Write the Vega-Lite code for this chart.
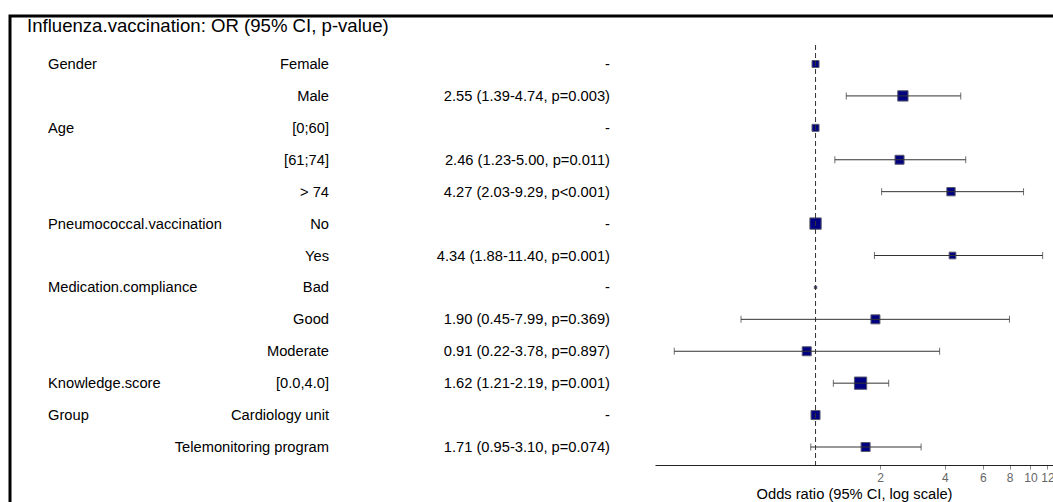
{
  "$schema": "https://vega.github.io/schema/vega-lite/v6.json",
  "width": 1050,
  "height": 500,
  "autosize": {"type": "none"},
  "padding": {"left": 10, "top": 16, "right": -7, "bottom": -14},
  "background": "white",
  "config": {
    "view": {"stroke": "black", "strokeWidth": 3},
    "font": "Liberation Sans",
    "text": {"font": "Liberation Sans", "fontSize": 14.7, "color": "black"}
  },
  "title": {
    "text": "Influenza.vaccination: OR (95% CI, p-value)",
    "anchor": "start",
    "frame": "group",
    "offset": 0,
    "dx": 17,
    "dy": 35,
    "baseline": "alphabetic",
    "font": "Liberation Sans",
    "fontSize": 18.6,
    "fontWeight": "normal",
    "color": "black"
  },
  "data": {
    "values": [
      {"row": 1, "variable": "Gender", "level": "Female", "or_text": "-", "or": 1, "lo": null, "hi": null, "n": 49},
      {"row": 2, "variable": "", "level": "Male", "or_text": "2.55 (1.39-4.74, p=0.003)", "or": 2.55, "lo": 1.39, "hi": 4.74, "n": 106},
      {"row": 3, "variable": "Age", "level": "[0;60]", "or_text": "-", "or": 1, "lo": null, "hi": null, "n": 49},
      {"row": 4, "variable": "", "level": "[61;74]", "or_text": "2.46 (1.23-5.00, p=0.011)", "or": 2.46, "lo": 1.23, "hi": 5.0, "n": 81},
      {"row": 5, "variable": "", "level": "> 74", "or_text": "4.27 (2.03-9.29, p<0.001)", "or": 4.27, "lo": 2.03, "hi": 9.29, "n": 69},
      {"row": 6, "variable": "Pneumococcal.vaccination", "level": "No", "or_text": "-", "or": 1, "lo": null, "hi": null, "n": 128},
      {"row": 7, "variable": "", "level": "Yes", "or_text": "4.34 (1.88-11.40, p=0.001)", "or": 4.34, "lo": 1.88, "hi": 11.4, "n": 45},
      {"row": 8, "variable": "Medication.compliance", "level": "Bad", "or_text": "-", "or": 1, "lo": null, "hi": null, "n": 6},
      {"row": 9, "variable": "", "level": "Good", "or_text": "1.90 (0.45-7.99, p=0.369)", "or": 1.9, "lo": 0.45, "hi": 7.99, "n": 81},
      {"row": 10, "variable": "", "level": "Moderate", "or_text": "0.91 (0.22-3.78, p=0.897)", "or": 0.91, "lo": 0.22, "hi": 3.78, "n": 81},
      {"row": 11, "variable": "Knowledge.score", "level": "[0.0,4.0]", "or_text": "1.62 (1.21-2.19, p=0.001)", "or": 1.62, "lo": 1.21, "hi": 2.19, "n": 151},
      {"row": 12, "variable": "Group", "level": "Cardiology unit", "or_text": "-", "or": 1, "lo": null, "hi": null, "n": 81},
      {"row": 13, "variable": "", "level": "Telemonitoring program", "or_text": "1.71 (0.95-3.10, p=0.074)", "or": 1.71, "lo": 0.95, "hi": 3.1, "n": 81}
    ]
  },
  "layer": [
    {
      "layer": [
        {
          "layer": [
            {
              "mark": {"type": "text", "align": "left", "baseline": "middle", "dy": 1},
              "encoding": {
                "x": {"datum": 0, "type": "quantitative"},
                "text": {"field": "variable"}
              }
            },
            {
              "mark": {"type": "text", "align": "right", "baseline": "middle", "dy": 1},
              "encoding": {
                "x": {"datum": 1, "type": "quantitative"},
                "text": {"field": "level"}
              }
            },
            {
              "mark": {"type": "text", "align": "right", "baseline": "middle", "dy": 1},
              "encoding": {
                "x": {"datum": 2, "type": "quantitative"},
                "text": {"field": "or_text"}
              }
            }
          ],
          "encoding": {
            "x": {"scale": {"domain": [0, 2], "range": [38, 600], "nice": false, "zero": false}, "axis": null},
            "y": {"field": "row", "type": "ordinal", "scale": {"type": "point", "padding": 0, "range": [48, 431]}, "axis": null}
          }
        },
        {
          "layer": [
            {
              "mark": {"type": "point", "shape": "square", "filled": true, "fill": "#000080", "stroke": "#5a5a6e", "strokeWidth": 1, "opacity": 1},
              "encoding": {
                "x": {"field": "or", "type": "quantitative"},
                "size": {"field": "n", "type": "quantitative", "scale": {"type": "linear", "domain": [0, 160], "range": [0, 160]}, "legend": null}
              }
            },
            {
              "transform": [{"filter": "datum.lo != null"}],
              "mark": {"type": "rule", "color": "#333333", "strokeWidth": 1},
              "encoding": {
                "x": {"field": "lo", "type": "quantitative"},
                "x2": {"field": "hi"}
              }
            },
            {
              "transform": [{"filter": "datum.lo != null"}],
              "mark": {"type": "tick", "orient": "vertical", "color": "#333333", "size": 7, "thickness": 1},
              "encoding": {"x": {"field": "lo", "type": "quantitative"}}
            },
            {
              "transform": [{"filter": "datum.lo != null"}],
              "mark": {"type": "tick", "orient": "vertical", "color": "#333333", "size": 7, "thickness": 1},
              "encoding": {"x": {"field": "hi", "type": "quantitative"}}
            }
          ],
          "encoding": {
            "x": {
              "scale": {"type": "log", "domain": [0.179, 12.74], "range": [645, 1043], "nice": false, "zero": false},
              "axis": {
                "values": [2, 4, 6, 8, 10, 12],
                "format": "~g",
                "offset": -51,
                "grid": false,
                "domainColor": "#222222",
                "domainWidth": 1,
                "tickColor": "#888888",
                "tickSize": 4,
                "labelColor": "#666666",
                "labelFont": "Liberation Sans",
                "labelFontSize": 12,
                "labelFlush": false,
                "labelPadding": 3,
                "title": "Odds ratio (95% CI, log scale)",
                "titleFont": "Liberation Sans",
                "titleFontSize": 14.7,
                "titleFontWeight": "normal",
                "titleColor": "black",
                "titlePadding": 3
              }
            },
            "y": {"field": "row", "type": "ordinal", "scale": {"type": "point", "padding": 0, "range": [48, 431]}, "axis": null}
          }
        }
      ],
      "resolve": {"scale": {"x": "independent"}}
    },
    {
      "data": {"values": [{"ref": 1}]},
      "mark": {"type": "rule", "color": "#333333", "strokeWidth": 1, "strokeDash": [5, 3]},
      "encoding": {
        "x": {"field": "ref", "type": "quantitative", "scale": {"type": "log", "domain": [0.179, 12.74], "range": [645, 1043], "nice": false, "zero": false}, "axis": null},
        "y": {"datum": 0, "type": "quantitative", "scale": {"domain": [0, 1], "range": [29, 449], "nice": false, "zero": false}, "axis": null},
        "y2": {"datum": 1}
      }
    }
  ],
  "resolve": {"scale": {"x": "independent", "y": "independent"}}
}
